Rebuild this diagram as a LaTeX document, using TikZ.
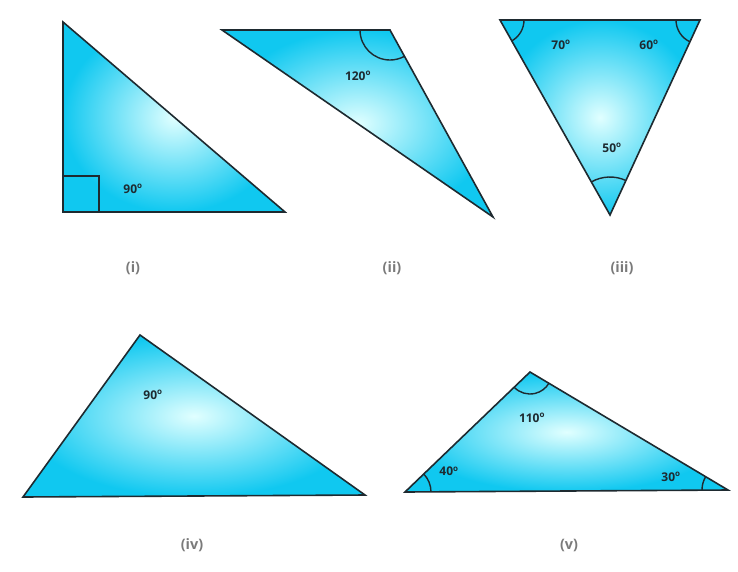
\documentclass[tikz,border=0pt]{standalone}
\usepackage{fontspec}
\setmainfont{Open Sans}
\usetikzlibrary{angles,calc}
\definecolor{edge}{HTML}{1E2A30}
\definecolor{fillc}{HTML}{10C8F0}
\definecolor{capc}{HTML}{7A7A7A}
\tikzset{
  tri/.style={draw=edge, line width=1.6pt, line join=miter, inner color=cyan!12, outer color=fillc},
  ang/.style={draw=edge, line width=1.4pt, angle radius=#1},
  deg/.style={font=\bfseries\large, text=edge},
  caption/.style={font=\bfseries\Large, text=capc}
}
\newcommand{\dg}[1]{#1\textsuperscript{o}}
\begin{document}
\begin{tikzpicture}[x=1pt,y=-1pt]
	\useasboundingbox (0,0) rectangle (738,571);
	% (i)
	\coordinate (A1) at (63,22);
	\coordinate (B1) at (63,212);
	\coordinate (C1) at (285,212);
	\fill[tri] (A1) -- (B1) -- (C1) -- cycle;
	\draw[edge, line width=1.4pt] (63,176) -- (99,176) -- (99,212);
	\node (l1) [deg] at (133,189) {\dg{90}};
	\node (c1) [caption] at (133,268) {(i)};
	% (ii)
	\coordinate (A2) at (222,30);
	\coordinate (B2) at (390,30);
	\coordinate (C2) at (493,217);
	\fill[tri] (A2) -- (B2) -- (C2) -- cycle;
	\pic[ang=30pt] {angle=A2--B2--C2};
	\node (l2) [deg] at (358,76) {\dg{120}};
	\node (c2) [caption] at (392,268) {(ii)};
	% (iii)
	\coordinate (A3) at (500,20);
	\coordinate (B3) at (700,20);
	\coordinate (C3) at (610,215);
	\fill[tri] (A3) -- (B3) -- (C3) -- cycle;
	\pic[ang=24pt] {angle=C3--A3--B3};
	\pic[ang=24pt] {angle=A3--B3--C3};
	\pic[ang=38pt] {angle=B3--C3--A3};
	\node (l3a) [deg] at (561,45) {\dg{70}};
	\node (l3b) [deg] at (649,45) {\dg{60}};
	\node (l3c) [deg] at (612,148) {\dg{50}};
	\node (c3) [caption] at (622,268) {(iii)};
	% (iv)
	\coordinate (A4) at (23,497);
	\coordinate (B4) at (140,335);
	\coordinate (C4) at (365,495);
	\fill[tri] (A4) -- (B4) -- (C4) -- cycle;
	\coordinate (P4) at ($(B4)!28!(A4)$);
	\coordinate (Q4) at ($(B4)!28!(C4)$);
	\draw[edge, line width=1.4pt] (P4) -- ($(P4)+(Q4)-(B4)$) -- (Q4);
	\node (l4) [deg] at (153,395) {\dg{90}};
	\node (c4) [caption] at (192,545) {(iv)};
	% (v)
	\coordinate (A5) at (405,492);
	\coordinate (B5) at (530,372);
	\coordinate (C5) at (728,490);
	\fill[tri] (A5) -- (B5) -- (C5) -- cycle;
	\pic[ang=26pt] {angle=C5--A5--B5};
	\pic[ang=22pt] {angle=A5--B5--C5};
	\pic[ang=26pt] {angle=B5--C5--A5};
	\node (l5a) [deg] at (532,418) {\dg{110}};
	\node (l5b) [deg] at (449,471) {\dg{40}};
	\node (l5c) [deg] at (671,477) {\dg{30}};
	\node (c5) [caption] at (569,545) {(v)};
\end{tikzpicture}
\end{document}
